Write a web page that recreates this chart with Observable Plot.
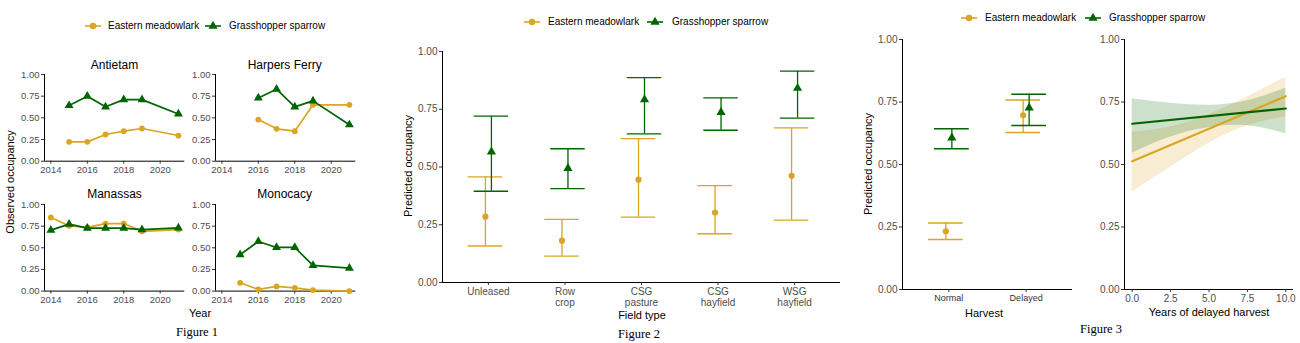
<!DOCTYPE html>
<html><head><meta charset="utf-8">
<script src="https://cdn.jsdelivr.net/npm/d3@7"></script>
<script src="https://cdn.jsdelivr.net/npm/@observablehq/plot@0.6"></script>
<style>
body{margin:0;background:#fff;overflow:hidden;}
#root{position:relative;width:1300px;height:343px;overflow:hidden;background:#fff;font-family:"Liberation Sans",Arial,sans-serif;color:#000;}
.lbl{position:absolute;white-space:nowrap;line-height:1;}
</style></head><body><div id="root"></div>
<script>
// ---------- shared ----------
const EM = "Eastern meadowlark", GS = "Grasshopper sparrow";
const species = [EM, GS];
const speciesColors = ["#DAA520", "#006400"];
const speciesSymbols = ["circle", "triangle"];
const yTicks = [0, 0.25, 0.5, 0.75, 1];

// ---------- Figure 1: observed occupancy by park ----------
const years = [2014, 2015, 2016, 2017, 2018, 2019, 2021];
const yearTicks = [2014, 2016, 2018, 2020];
const parks = ["Antietam", "Harpers Ferry", "Manassas", "Monocacy"];
const antietamEM = [null, 0.223, 0.223, 0.308, 0.346, 0.377, 0.296];
const antietamGS = [null, 0.642, 0.750, 0.627, 0.710, 0.710, 0.545];
const harpersEM  = [null, null, 0.480, 0.373, 0.346, 0.650, 0.650];
const harpersGS  = [null, null, 0.730, 0.830, 0.627, 0.696, 0.420];
const manassasEM = [0.850, 0.754, 0.735, 0.780, 0.780, 0.690, 0.710];
const manassasGS = [0.704, 0.773, 0.727, 0.727, 0.727, 0.710, 0.730];
const monocacyEM = [null, 0.096, 0.019, 0.054, 0.038, 0.012, 0.000];
const monocacyGS = [null, 0.420, 0.573, 0.504, 0.504, 0.296, 0.265];

// ---------- Figure 2: predicted occupancy by field type ----------
const fieldTypes = ["Unleased", "Row\ncrop", "CSG\npasture", "CSG\nhayfield", "WSG\nhayfield"];
const fieldEM   = [0.285, 0.181, 0.445, 0.303, 0.462];
const fieldEMlo = [0.158, 0.114, 0.283, 0.211, 0.270];
const fieldEMhi = [0.457, 0.273, 0.623, 0.419, 0.669];
const fieldGS   = [0.566, 0.494, 0.792, 0.737, 0.841];
const fieldGSlo = [0.395, 0.406, 0.643, 0.659, 0.712];
const fieldGShi = [0.720, 0.579, 0.887, 0.799, 0.915];

// ---------- Figure 3: harvest timing ----------
const harvestTypes = ["Normal", "Delayed"];
const harvestEM   = [0.233, 0.697];
const harvestEMlo = [0.200, 0.628];
const harvestEMhi = [0.266, 0.758];
const harvestGS   = [0.607, 0.727];
const harvestGSlo = [0.563, 0.656];
const harvestGShi = [0.643, 0.781];

const delayYears = [0, 2.5, 5, 7.5, 10];
const delayEMlo = [0.390, 0.490, 0.585, 0.655, 0.690];
const delayEMhi = [0.630, 0.650, 0.700, 0.770, 0.850];
const delayGSlo = [0.545, 0.610, 0.648, 0.655, 0.623];
const delayGShi = [0.763, 0.745, 0.737, 0.755, 0.806];
const delayFitYears = [0, 10];
const delayEMfit = [0.513, 0.773];
const delayGSfit = [0.663, 0.724];

// ---------- helpers ----------
const root = document.getElementById("root");
const FONT = "Liberation Sans, Arial, sans-serif";
const M = 40;
function place(frame, opts) {
  const [x0, x1, y0, y1] = frame;
  const svg = Plot.plot({
    width: x1 - x0 + 2 * M, height: y1 - y0 + 2 * M,
    marginLeft: M, marginRight: M, marginTop: M, marginBottom: M,
    style: {background: "transparent", overflow: "visible", fontFamily: FONT, maxWidth: "none", color: "#000"},
    ...opts
  });
  svg.style.position = "absolute";
  svg.style.left = (x0 - M) + "px";
  svg.style.top = (y0 - M) + "px";
  root.appendChild(svg);
}
function text(str, x, y, o = {}) {
  const d = document.createElement("div");
  d.className = "lbl";
  d.textContent = str;
  d.style.left = x + "px"; d.style.top = y + "px";
  d.style.fontSize = (o.size || 11) + "px";
  if (o.font) d.style.fontFamily = o.font;
  d.style.color = o.color || "#000";
  const anchor = o.anchor === "start" ? "translate(0,-50%)" : "translate(-50%,-50%)";
  d.style.transform = anchor + (o.rotate ? ` rotate(${o.rotate}deg)` : "");
  root.appendChild(d);
}
function legend(y, items, size) {
  const ns = "http://www.w3.org/2000/svg";
  items.forEach(([cx, tx], k) => {
    const svg = document.createElementNS(ns, "svg");
    svg.setAttribute("width", 20); svg.setAttribute("height", 14);
    svg.style.position = "absolute"; svg.style.left = (cx - 10) + "px"; svg.style.top = (y - 7) + "px";
    const line = document.createElementNS(ns, "line");
    line.setAttribute("x1", 2); line.setAttribute("x2", 18); line.setAttribute("y1", 7); line.setAttribute("y2", 7);
    line.setAttribute("stroke", speciesColors[k]); line.setAttribute("stroke-width", 1.6);
    svg.appendChild(line);
    const p = document.createElementNS(ns, "path");
    const sym = k === 0 ? d3.symbolCircle : d3.symbolTriangle;
    const r = k === 0 ? 3.2 : 3.4;
    p.setAttribute("d", d3.symbol(sym, Math.PI * r * r)());
    p.setAttribute("transform", "translate(10,7)");
    p.setAttribute("fill", speciesColors[k]);
    svg.appendChild(p);
    root.appendChild(svg);
    text(species[k], tx, y, {size, anchor: "start"});
  });
}
const axY = (size) => Plot.axisY(yTicks, {tickFormat: d3.format(".2f"), tickSize: 3, tickPadding: 2, fontSize: size, fill: "#4d4d4d", stroke: "#333", label: null});

// ---------- Figure 1 ----------
function park(frame, em, gs) {
  const rows = (vals, k) => years.map((yr, i) => ({year: yr, v: vals[i], k})).filter(d => d.v != null);
  const series = [rows(em, 0), rows(gs, 1)];
  const xd = [2013.65, 2021.35];
  const marks = [
    Plot.ruleX([xd[0]], {stroke: "#000", strokeWidth: 1}),
    Plot.ruleY([0], {stroke: "#000", strokeWidth: 1}),
    axY(9.5),
    Plot.axisX(yearTicks, {tickFormat: d => String(d), tickSize: 3, tickPadding: 2, fontSize: 9.5, fill: "#4d4d4d", stroke: "#333", label: null})
  ];
  series.forEach((d, k) => {
    marks.push(Plot.line(d, {x: "year", y: "v", stroke: speciesColors[k], strokeWidth: 1.7}));
    marks.push(Plot.dot(d, {x: "year", y: "v", fill: speciesColors[k], symbol: speciesSymbols[k], r: k === 0 ? 2.9 : 3.3}));
  });
  place(frame, {x: {domain: xd, label: null}, y: {domain: [0, 1], label: null}, marks});
}
const f1x = [[44.3, 184.6], [214.5, 354.8]];
const f1y = [[74.3, 161], [203.7, 290.3]];
park([...f1x[0], ...f1y[0]], antietamEM, antietamGS);
park([...f1x[1], ...f1y[0]], harpersEM, harpersGS);
park([...f1x[0], ...f1y[1]], manassasEM, manassasGS);
park([...f1x[1], ...f1y[1]], monocacyEM, monocacyGS);
text(parks[0], 114.5, 64.5, {size: 12});
text(parks[1], 284.7, 64.5, {size: 12});
text(parks[2], 114.5, 193.5, {size: 12});
text(parks[3], 284.7, 193.5, {size: 12});
text("Observed occupancy", 10, 182, {size: 11, rotate: -90});
text("Year", 200, 313, {size: 11});
text("Figure 1", 197, 332, {size: 12.5, font: "Liberation Serif, Times New Roman, serif"});
legend(26, [[92.7, 108], [213.3, 229]], 10);

// ---------- Figure 2 ----------
(function () {
  const half = 0.225;
  const rows = (v, lo, hi, k) => fieldTypes.map((c, i) => ({i, v: v[i], lo: lo[i], hi: hi[i], k}));
  const series = [rows(fieldEM, fieldEMlo, fieldEMhi, 0), rows(fieldGS, fieldGSlo, fieldGShi, 1)];
  const xd = [-0.6, fieldTypes.length - 1 + 0.6];
  const marks = [
    Plot.ruleX([xd[0]], {stroke: "#000", strokeWidth: 1}),
    Plot.ruleY([0], {stroke: "#000", strokeWidth: 1}),
    axY(10),
    Plot.axisX(fieldTypes.map((_, i) => i), {tickFormat: i => fieldTypes[i], tickSize: 3, tickPadding: 2, fontSize: 10, lineHeight: 1.1, fill: "#4d4d4d", stroke: "#333", label: null})
  ];
  series.forEach((d, k) => {
    const dx = k === 0 ? -3 : 3, c = speciesColors[k];
    marks.push(Plot.ruleX(d, {x: "i", y1: "lo", y2: "hi", dx, stroke: c, strokeWidth: 1.3}));
    marks.push(Plot.ruleY(d, {y: "lo", x1: r => r.i - half, x2: r => r.i + half, dx, stroke: c, strokeWidth: 1.3}));
    marks.push(Plot.ruleY(d, {y: "hi", x1: r => r.i - half, x2: r => r.i + half, dx, stroke: c, strokeWidth: 1.3}));
    marks.push(Plot.dot(d, {x: "i", y: "v", dx, fill: c, symbol: speciesSymbols[k], r: k === 0 ? 3.1 : 3.4}));
  });
  place([442, 840, 51, 282], {x: {domain: xd, label: null}, y: {domain: [0, 1], label: null}, marks});
})();
text("Predicted occupancy", 408, 166, {size: 11, rotate: -90});
text("Field type", 642, 315, {size: 11});
text("Figure 2", 639, 334, {size: 12.5, font: "Liberation Serif, Times New Roman, serif"});
legend(22, [[532, 548], [655, 672]], 10);

// ---------- Figure 3 (left) ----------
(function () {
  const half = 0.225;
  const rows = (v, lo, hi, k) => harvestTypes.map((c, i) => ({i, v: v[i], lo: lo[i], hi: hi[i], k}));
  const series = [rows(harvestEM, harvestEMlo, harvestEMhi, 0), rows(harvestGS, harvestGSlo, harvestGShi, 1)];
  const xd = [-0.6, harvestTypes.length - 1 + 0.6];
  const marks = [
    Plot.ruleX([xd[0]], {stroke: "#000", strokeWidth: 1}),
    Plot.ruleY([0], {stroke: "#000", strokeWidth: 1}),
    axY(10),
    Plot.axisX(harvestTypes.map((_, i) => i), {tickFormat: i => harvestTypes[i], tickSize: 3, tickPadding: 2, fontSize: 9, fill: "#333", stroke: "#333", label: null})
  ];
  series.forEach((d, k) => {
    const dx = k === 0 ? -3 : 3, c = speciesColors[k];
    marks.push(Plot.ruleX(d, {x: "i", y1: "lo", y2: "hi", dx, stroke: c, strokeWidth: 1.3}));
    marks.push(Plot.ruleY(d, {y: "lo", x1: r => r.i - half, x2: r => r.i + half, dx, stroke: c, strokeWidth: 1.3}));
    marks.push(Plot.ruleY(d, {y: "hi", x1: r => r.i - half, x2: r => r.i + half, dx, stroke: c, strokeWidth: 1.3}));
    marks.push(Plot.dot(d, {x: "i", y: "v", dx, fill: c, symbol: speciesSymbols[k], r: k === 0 ? 3.1 : 3.4}));
  });
  place([902, 1072, 39, 289], {x: {domain: xd, label: null}, y: {domain: [0, 1], label: null}, marks});
})();

// ---------- Figure 3 (right) ----------
(function () {
  const band = (lo, hi, k) => delayYears.map((t, i) => ({t, lo: lo[i], hi: hi[i], k}));
  const fit = (v, k) => delayFitYears.map((t, i) => ({t, v: v[i], k}));
  const bands = [band(delayEMlo, delayEMhi, 0), band(delayGSlo, delayGShi, 1)];
  const fits = [fit(delayEMfit, 0), fit(delayGSfit, 1)];
  const xd = [-0.5, 10.5];
  const marks = [
    Plot.ruleX([xd[0]], {stroke: "#000", strokeWidth: 1}),
    Plot.ruleY([0], {stroke: "#000", strokeWidth: 1}),
    axY(10),
    Plot.axisX(delayYears, {tickFormat: d3.format(".1f"), tickSize: 3, tickPadding: 2, fontSize: 10, fill: "#4d4d4d", stroke: "#333", label: null})
  ];
  bands.forEach((d, k) => marks.push(Plot.areaY(d, {x: "t", y1: "lo", y2: "hi", fill: speciesColors[k], fillOpacity: 0.2, curve: "natural"})));
  fits.forEach((d, k) => marks.push(Plot.line(d, {x: "t", y: "v", stroke: speciesColors[k], strokeWidth: 2.2})));
  place([1124, 1293, 39, 289], {x: {domain: xd, label: null}, y: {domain: [0, 1], label: null}, marks});
})();
text("Predicted occupancy", 868, 164, {size: 11, rotate: -90});
text("Harvest", 984, 313, {size: 11});
text("Years of delayed harvest", 1209, 312, {size: 11});
text("Figure 3", 1101, 329, {size: 12.5, font: "Liberation Serif, Times New Roman, serif"});
legend(18, [[969, 985], [1093, 1109]], 10);
</script></body></html>
